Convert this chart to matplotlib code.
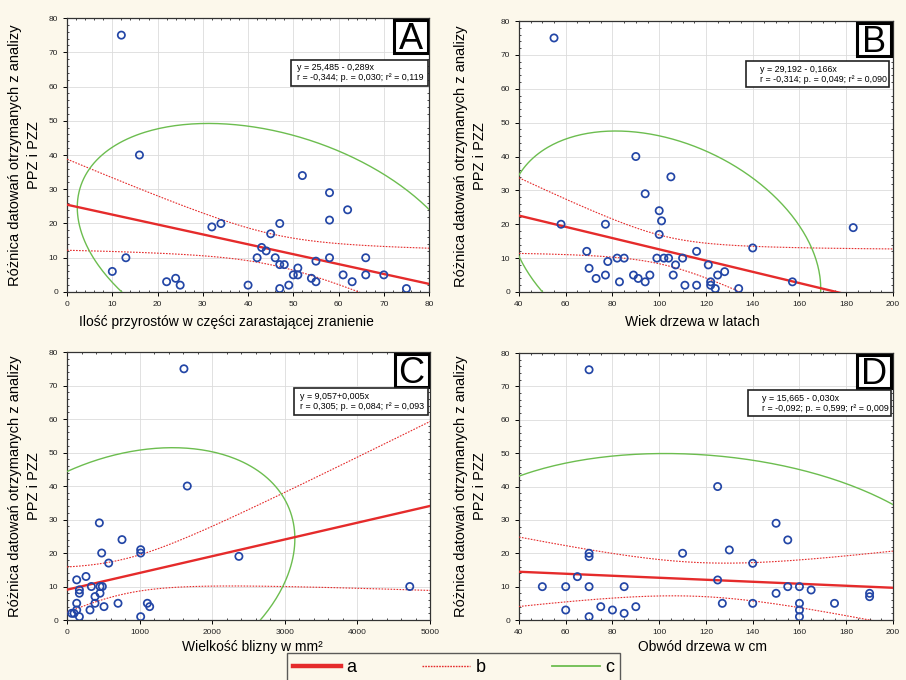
import numpy as np
import matplotlib.pyplot as plt
from matplotlib.lines import Line2D
from matplotlib.patches import Rectangle

plt.rcParams['font.family'] = ['Liberation Sans', 'DejaVu Sans']

# panel A: liczba przyrostow
a_x = [12, 16, 10, 13, 22, 24, 25, 32, 34, 40, 42, 43, 44, 45, 46, 47, 47, 48, 47,
       49, 50, 51, 51, 52, 54, 55, 55, 58, 58, 58, 61, 62, 63, 66, 66, 70, 75]
a_y = [75, 40, 6, 10, 3, 4, 2, 19, 20, 2, 10, 13, 12, 17, 10, 8, 20, 8, 1,
       2, 5, 7, 5, 34, 4, 9, 3, 29, 21, 10, 5, 24, 3, 10, 5, 5, 1]

# panel B: wiek drzewa
b_x = [55, 58, 69, 70, 73, 77, 77, 78, 82, 83, 85, 89, 90, 91, 94, 94, 96, 99, 100, 100,
       101, 102, 104, 105, 106, 107, 110, 111, 116, 116, 121, 122, 122, 124, 125, 128,
       134, 140, 157, 183]
b_y = [75, 20, 12, 7, 4, 20, 5, 9, 10, 3, 10, 5, 40, 4, 29, 3, 5, 10, 24, 17,
       21, 10, 10, 34, 5, 8, 10, 2, 12, 2, 8, 3, 2, 1, 5, 6,
       1, 13, 3, 19]

# panel C: wielkosc blizny
c_x = [1610, 1656, 445, 757, 477, 1014, 1014, 573, 2367, 133, 261, 170, 170, 335, 454,
       486, 385, 454, 133, 385, 509, 702, 316, 64, 96, 133, 170, 1014, 1106, 1138, 4720]
c_y = [75, 40, 29, 24, 20, 21, 20, 17, 19, 12, 13, 9, 8, 10, 10,
       10, 7, 8, 5, 5, 4, 5, 3, 2, 2, 3, 1, 1, 5, 4, 10]

# panel D: obwod drzewa
d_x = [70, 125, 150, 155, 110, 70, 70, 130, 140, 125, 65, 50, 60, 70, 85, 155, 160, 165,
       150, 190, 190, 60, 75, 80, 85, 90, 70, 127, 140, 160, 160, 160, 175]
d_y = [75, 40, 29, 24, 20, 20, 19, 21, 17, 12, 13, 10, 10, 10, 10, 10, 10, 9,
       8, 8, 7, 3, 4, 3, 2, 4, 1, 5, 5, 5, 3, 1, 5]

# wspolczynniki regresji (z ramek)
intercepts = [25.485, 29.192, 9.057, 15.665]
slopes = [-0.289, -0.166, 0.005, -0.030]

y_label = 'Różnica datowań otrzymanych z analizy\nPPZ i PZZ'
x_labels = ['Ilość przyrostów w części zarastającej zranienie',
            'Wiek drzewa w latach',
            'Wielkość blizny w mm²',
            'Obwód drzewa w cm']
eq_texts = ['y = 25,485 - 0,289x\nr = -0,344; p. = 0,030; r² = 0,119',
            'y = 29,192 - 0,166x\nr = -0,314; p. = 0,049; r² = 0,090',
            'y = 9,057+0,005x\nr = 0,305; p. = 0,084; r² = 0,093',
            'y = 15,665 - 0,030x\nr = -0,092; p. = 0,599; r² = 0,009']
letters = ['A', 'B', 'C', 'D']

BG = '#fcf8eb'
RED = '#e52b2b'
GREEN = '#6cbd4f'
BLUE = '#2346a6'
T95 = 2.03          # t-Studenta, ~35 df

W, H = 906, 680
fig = plt.figure(figsize=(W / 100, H / 100), dpi=100, facecolor=BG)


def panel(rect, x, y, b0, b1, xlim, xticks, xlabel, eq, letter, eqbox, xlab_pos, ylab_x):
    ax = fig.add_axes(rect)
    x = np.array(x, float)
    y = np.array(y, float)
    n = len(x)
    wpx, hpx = rect[2] * W, rect[3] * H

    # regresja + przedzial ufnosci 95%
    xs = np.linspace(xlim[0], xlim[1], 300)
    res = y - (b0 + b1 * x)
    s = np.sqrt(np.sum(res ** 2) / (n - 2))
    sxx = np.sum((x - x.mean()) ** 2)
    se = s * np.sqrt(1 / n + (xs - x.mean()) ** 2 / sxx)
    fit = b0 + b1 * xs
    ax.plot(xs, fit, color=RED, lw=1.7, zorder=4)
    ax.plot(xs, fit + T95 * se, color=RED, lw=0.8, ls=(0, (1.5, 1.2)), zorder=3)
    ax.plot(xs, fit - T95 * se, color=RED, lw=0.8, ls=(0, (1.5, 1.2)), zorder=3)

    # elipsa predykcji 95%
    k = np.sqrt((n - 1) * (0.05 ** (-2 / (n - 2)) - 1))
    cov = np.cov(x, y)
    vals, vecs = np.linalg.eigh(cov)
    t = np.linspace(0, 2 * np.pi, 400)
    circ = np.vstack([np.cos(t), np.sin(t)]) * np.sqrt(vals)[:, None]
    pts = vecs @ circ * k
    ax.plot(x.mean() + pts[0], y.mean() + pts[1], color=GREEN, lw=1.0, zorder=3)

    ax.scatter(x, y, s=27, facecolors='none', edgecolors=BLUE, linewidths=1.25, zorder=5)

    ax.set_xlim(xlim)
    ax.set_ylim(0, 80)
    ax.set_xticks(xticks)
    ax.set_yticks(range(0, 81, 10))
    ax.minorticks_on()
    ax.tick_params(which='major', labelsize=6, length=3, width=0.7, direction='out',
                   labelcolor='#222222')
    ax.tick_params(which='minor', length=1.5, width=0.5, direction='in', top=True, right=True)
    ax.grid(True, which='major', color='#dcdcdc', lw=0.6)
    ax.set_axisbelow(True)
    for sp in ax.spines.values():
        sp.set_linewidth(0.9)
        sp.set_color('#333333')

    ax.set_xlabel(xlabel, fontsize=10)
    ax.xaxis.set_label_coords(xlab_pos[0], xlab_pos[1])
    ax.set_ylabel(y_label, fontsize=10.5, linespacing=1.45)
    ax.yaxis.set_label_coords(ylab_x, 0.5)

    # litera panelu
    bw, bh = 34 / wpx, 33 / hpx
    bx, by = 1 - bw - 1.5 / wpx, 1 - bh - 1.5 / hpx
    ax.add_patch(Rectangle((bx, by), bw, bh, transform=ax.transAxes, fc='white',
                           ec='black', lw=2.2, zorder=6))
    ax.text(bx + bw / 2, by + 3.5 / hpx, letter, transform=ax.transAxes, fontsize=26,
            ha='center', va='baseline', zorder=7)

    # ramka z rownaniem
    x0, x1, yb, yt, xt = eqbox
    ax.add_patch(Rectangle((x0, yb), x1 - x0, yt - yb, transform=ax.transAxes,
                           fc='white', ec='#222222', lw=1.2, zorder=6))
    ax.text(xt, (yb + yt) / 2, eq, transform=ax.transAxes, fontsize=6.4, ha='left',
            va='center', linespacing=1.15, zorder=7)
    return ax


panel([0.0740, 0.5706, 0.3996, 0.4029], a_x, a_y, intercepts[0], slopes[0], (0, 80),
      range(0, 81, 10), x_labels[0], eq_texts[0], letters[0],
      (0.619, 0.998, 0.752, 0.847, 0.635), (0.44, -0.085), -0.072)
panel([0.5728, 0.5706, 0.4128, 0.3985], b_x, b_y, intercepts[1], slopes[1], (40, 200),
      range(40, 201, 20), x_labels[1], eq_texts[1], letters[1],
      (0.607, 0.989, 0.756, 0.852, 0.644), (0.465, -0.085), -0.086)
panel([0.0740, 0.0882, 0.4007, 0.3941], c_x, c_y, intercepts[2], slopes[2], (0, 5000),
      range(0, 5001, 1000), x_labels[2], eq_texts[2], letters[2],
      (0.625, 0.994, 0.765, 0.866, 0.642), (0.51, -0.075), -0.072)
panel([0.5728, 0.0882, 0.4128, 0.3926], d_x, d_y, intercepts[3], slopes[3], (40, 200),
      range(40, 201, 20), x_labels[3], eq_texts[3], letters[3],
      (0.612, 0.995, 0.764, 0.861, 0.65), (0.49, -0.075), -0.086)

handles = [Line2D([], [], color=RED, lw=3.2),
           Line2D([], [], color=RED, lw=1.0, ls=(0, (1.2, 0.8))),
           Line2D([], [], color=GREEN, lw=1.3)]
leg = fig.legend(handles, ['a', 'b', 'c'], loc='upper left',
                 bbox_to_anchor=(287 / W, 1 - 653 / H),
                 ncol=3, fontsize=13, frameon=True, fancybox=False, handlelength=2.65,
                 columnspacing=3.65, borderpad=0.35, handletextpad=0.3, borderaxespad=0)
leg.get_frame().set_edgecolor('#333333')
leg.get_frame().set_facecolor(BG)
leg.get_frame().set_linewidth(1.0)

fig.savefig('out.png', dpi=100, facecolor=BG)
